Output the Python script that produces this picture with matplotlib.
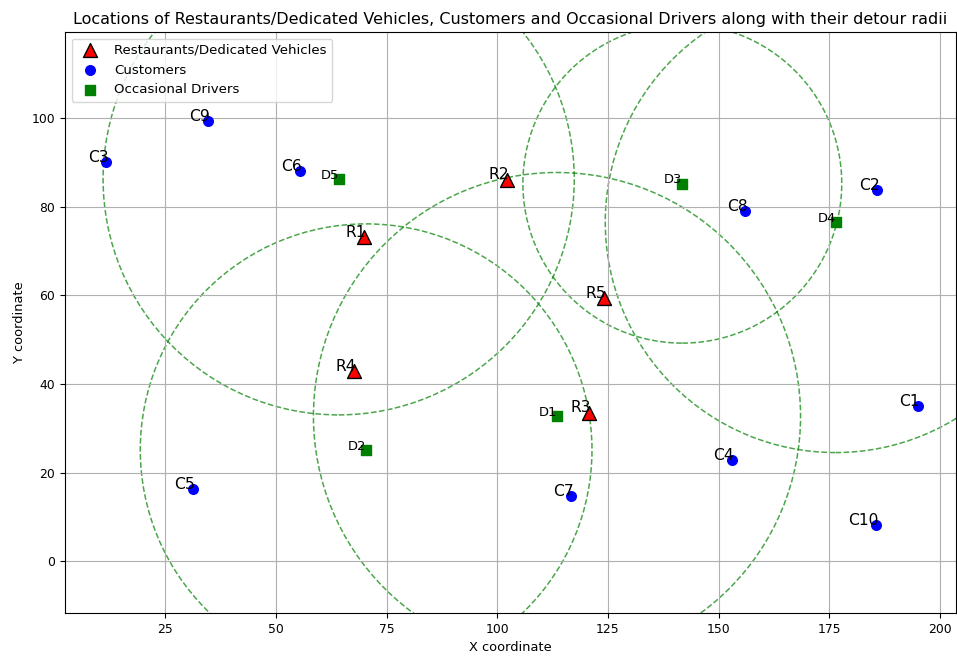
import numpy as np
import matplotlib
matplotlib.use("Agg")
import matplotlib.pyplot as plt

# Restaurants / dedicated vehicles
rest_names = ['R1', 'R2', 'R3', 'R4', 'R5']
rest_x = [69.9, 102.2, 120.7, 67.7, 124.2]
rest_y = [73.1, 86.1, 33.5, 42.9, 59.4]

# Customers
cust_names = ['C1', 'C2', 'C3', 'C4', 'C5', 'C6', 'C7', 'C8', 'C9', 'C10']
cust_x = [195.0, 185.8, 11.7, 153.0, 31.3, 55.5, 116.7, 156.0, 34.7, 185.5]
cust_y = [35.0, 83.7, 90.0, 22.8, 16.3, 88.0, 14.7, 79.0, 99.3, 8.1]

# Occasional drivers and their detour radii
drv_names = ['D1', 'D2', 'D3', 'D4', 'D5']
drv_x = [113.5, 70.4, 141.8, 176.4, 64.2]
drv_y = [32.7, 25.1, 85.2, 76.5, 86.2]
drv_radius = [55.0, 51.0, 36.0, 52.0, 53.2]

fig = plt.figure(figsize=(9.57, 6.59), dpi=100)
ax = fig.add_axes([65 / 957, 1 - 613 / 659, 891 / 957, 581 / 659])

ax.scatter(rest_x, rest_y, c='red', marker='^', s=100, edgecolors='black',
           label='Restaurants/Dedicated Vehicles', zorder=3)
ax.scatter(cust_x, cust_y, c='blue', marker='o', s=48,
           label='Customers', zorder=3)
ax.scatter(drv_x, drv_y, c='green', marker='s', s=60,
           label='Occasional Drivers', zorder=3)

for n, x, y in zip(rest_names, rest_x, rest_y):
    ax.text(x + 0.5, y - 0.6, n, fontsize=11.2, ha='right', va='bottom')
for n, x, y in zip(cust_names, cust_x, cust_y):
    ax.text(x + 0.5, y - 0.6, n, fontsize=11.2, ha='right', va='bottom')
for n, x, y, r in zip(drv_names, drv_x, drv_y, drv_radius):
    ax.text(x, y - 0.6, n, fontsize=9.4, ha='right', va='bottom')
    c = plt.Circle((x, y), r, color='green', fill=False, linestyle='--',
                   alpha=0.7, linewidth=1.1)
    ax.add_patch(c)

ax.set_xlim(2.4, 203.6)
ax.set_ylim(-11.7, 119.4)
ax.set_xticks([25, 50, 75, 100, 125, 150, 175, 200])
ax.set_yticks([0, 20, 40, 60, 80, 100])
ax.tick_params(labelsize=8.9)
ax.set_xlabel('X coordinate', fontsize=9.4)
ax.set_ylabel('Y coordinate', fontsize=9.4)
ax.set_title('Locations of Restaurants/Dedicated Vehicles, Customers and Occasional Drivers along with their detour radii',
             fontsize=11.5)
ax.grid(True)
ax.legend(loc='upper left', fontsize=9.6)

fig.savefig('out.png', dpi=100)
